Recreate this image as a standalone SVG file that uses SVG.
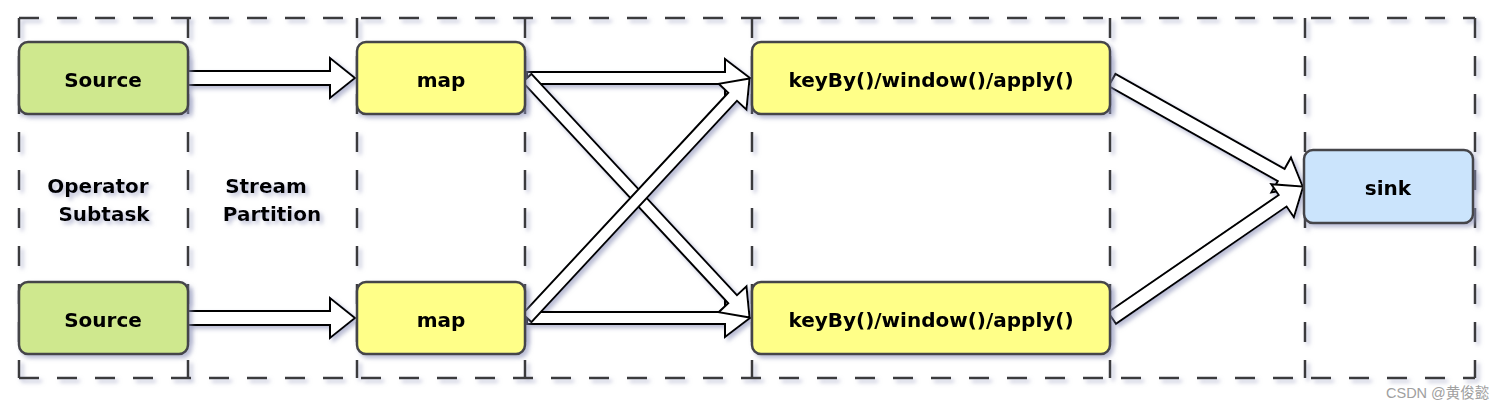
<svg xmlns="http://www.w3.org/2000/svg" width="1502" height="410" viewBox="0 0 1502 410">
<style>
.frame{fill:none;stroke:#3a3a3e;stroke-width:2.5;stroke-dasharray:20 18}
.node{stroke:#444448;stroke-width:2.5}
.src{fill:#cfe88e}
.map{fill:#ffff88}
.sink{fill:#cbe4fc}
.lbl{font-family:"DejaVu Sans",sans-serif;font-size:20px;font-weight:bold;fill:#000;text-anchor:middle;dominant-baseline:central}
.arr{fill:#fff;stroke:#000;stroke-width:2;stroke-linejoin:miter}
.wm{font-family:"Liberation Sans","Noto Sans CJK SC",sans-serif;font-size:14.5px;fill:#a0a0a0}
</style>
<defs>
<filter id="sh" x="-10%" y="-10%" width="130%" height="140%">
<feDropShadow dx="3" dy="3" stdDeviation="2" flood-color="#8c90b8" flood-opacity="0.6"/>
</filter>
</defs>
<g id="frames" filter="url(#sh)">
<line class="frame" x1="19" y1="18" x2="1475" y2="18"/>
<line class="frame" x1="19" y1="378" x2="1475" y2="378"/>
<line class="frame" x1="19" y1="18" x2="19" y2="378"/>
<line class="frame" x1="188" y1="18" x2="188" y2="378"/>
<line class="frame" x1="357" y1="18" x2="357" y2="378"/>
<line class="frame" x1="525" y1="18" x2="525" y2="378"/>
<line class="frame" x1="752" y1="18" x2="752" y2="378"/>
<line class="frame" x1="1110" y1="18" x2="1110" y2="378"/>
<line class="frame" x1="1305" y1="18" x2="1305" y2="378"/>
<line class="frame" x1="1475" y1="18" x2="1475" y2="378"/>
</g>
<g id="labels" filter="url(#sh)">
<text class="lbl" x="98" y="186">Operator</text>
<text class="lbl" x="104" y="214">Subtask</text>
<text class="lbl" x="266" y="186">Stream</text>
<text class="lbl" x="272" y="214">Partition</text>
</g>
<g id="connectors" filter="url(#sh)">
<polygon class="arr" transform="translate(188,78)" points="0,-7 142,-7 142,-20 167,0 142,20 142,7 0,7"/>
<polygon class="arr" transform="translate(188,318)" points="0,-7 142,-7 142,-20 167,0 142,20 142,7 0,7"/>
<polygon class="arr" transform="translate(527,78)" points="0,-6 198,-6 198,-19 223,0 198,19 198,6 0,6"/>
<polygon class="arr" transform="translate(527,318)" points="0,-6 198,-6 198,-19 223,0 198,19 198,6 0,6"/>
<polygon class="arr" transform="translate(527,78) rotate(47.1)" points="0,-6 302,-6 302,-19 327,0 302,19 302,6 0,6"/>
<polygon class="arr" transform="translate(527,318) rotate(-47.1)" points="0,-6 302,-6 302,-19 327,0 302,19 302,6 0,6"/>
<polygon class="arr" transform="translate(1112,80) rotate(29.3)" points="0,-7 194,-7 194,-20 219,0 194,20 194,7 0,7"/>
<polygon class="arr" transform="translate(1112,318) rotate(-34.5)" points="0,-7 207,-7 207,-20 232,0 207,20 207,7 0,7"/>
</g>
<g id="source1" filter="url(#sh)">
<rect class="node src" x="19" y="42" width="169" height="72" rx="9"/>
<text class="lbl" x="103" y="80">Source</text>
</g>
<g id="source2" filter="url(#sh)">
<rect class="node src" x="19" y="282" width="169" height="72" rx="9"/>
<text class="lbl" x="103" y="320">Source</text>
</g>
<g id="map1" filter="url(#sh)">
<rect class="node map" x="357" y="42" width="168" height="72" rx="9"/>
<text class="lbl" x="441" y="80">map</text>
</g>
<g id="map2" filter="url(#sh)">
<rect class="node map" x="357" y="282" width="168" height="72" rx="9"/>
<text class="lbl" x="441" y="320">map</text>
</g>
<g id="keyby1" filter="url(#sh)">
<rect class="node map" x="752" y="42" width="358" height="72" rx="9"/>
<text class="lbl" x="931" y="80">keyBy()/window()/apply()</text>
</g>
<g id="keyby2" filter="url(#sh)">
<rect class="node map" x="752" y="282" width="358" height="72" rx="9"/>
<text class="lbl" x="931" y="320">keyBy()/window()/apply()</text>
</g>
<g id="sink" filter="url(#sh)">
<rect class="node sink" x="1304" y="150" width="169" height="73" rx="9"/>
<text class="lbl" x="1388" y="188">sink</text>
</g>
<text class="wm" x="1386" y="398">CSDN @黄俊懿</text>
</svg>
